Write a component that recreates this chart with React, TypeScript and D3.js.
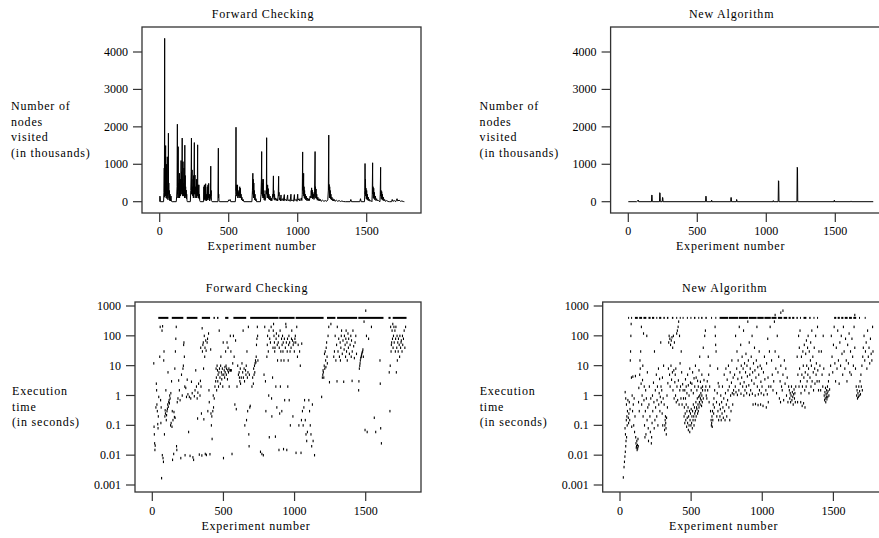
import React from "react";
import * as d3 from "d3";

// axis ticks
const expTicks = [0, 500, 1000, 1500];
const nodeTicks = [0, 1000, 2000, 3000, 4000];
const timeTicks = [0.001, 0.01, 0.1, 1, 10, 100, 1000];
const timeTickLabels = ["0.001", "0.01", "0.1", "1", "10", "100", "1000"];

const nodeLabel = ["Number of", "nodes", "visited", "(in thousands)"];
const timeLabel = ["Execution", "time", "(in seconds)"];

// nodes visited (thousands) : [experiment, value]
const fcNodes: [number, number][] = [
  [0,0],[1,150],[3,140],[5,0],[28,0],[31,250],[33,900],[34,120],[36,4365],[37,300],[38,1000],[39,200],[40,700],[41,150],[43,1500],[44,300],[46,600],[47,100],[49,1000],[50,200],[52,400],[53,80],[55,1200],[56,150],[58,300],[60,50],[62,250],[63,1830],[64,200],[66,500],[68,100],[70,300],[72,30],[75,200],[78,20],[82,150],[85,10],[90,0],
  [120,0],[123,150],[126,400],[128,2070],[129,200],[131,600],[132,100],[134,1470],[135,300],[137,500],[139,100],[141,300],[143,760],[144,100],[146,400],[148,200],[150,600],[151,150],[153,300],[155,1100],[156,200],[158,800],[159,300],[161,400],[163,1700],[164,200],[166,600],[167,150],[169,1070],[170,300],[172,500],[174,150],[176,900],[177,200],[179,400],[180,100],[182,1510],[183,200],[185,700],[186,150],[188,400],[190,100],[192,310],[194,80],[196,200],[198,30],[200,0],
  [222,0],[225,300],[228,800],[230,1700],[231,200],[233,500],[235,850],[236,200],[238,400],[240,150],[242,600],[244,100],[246,700],[248,300],[251,1580],[252,200],[254,500],[256,710],[257,100],[259,400],[261,300],[263,200],[266,600],[268,100],[270,400],[272,150],[275,1520],[276,200],[278,450],[280,100],[282,300],[284,450],[286,80],[288,200],[290,30],[294,0],
  [318,0],[320,400],[322,50],[324,450],[326,80],[328,300],[330,30],[333,480],[335,60],[338,200],[340,20],[345,400],[347,50],[350,450],[352,100],[355,490],[357,50],[360,200],[362,20],[368,100],[370,950],[371,150],[373,300],[375,30],[380,0],
  [422,0],[425,1430],[426,100],[428,200],[430,20],[434,0],
  [495,0],[500,50],[505,30],[510,60],[515,0],
  [548,0],[551,200],[553,1990],[554,300],[556,450],[558,150],[560,400],[562,200],[564,450],[566,100],[568,300],[570,150],[573,250],[576,100],[580,400],[582,150],[585,360],[587,100],[590,200],[593,50],[596,120],[600,20],[605,60],[610,0],
  [668,0],[672,300],[675,760],[676,200],[678,600],[680,100],[682,500],[684,150],[686,300],[688,50],[691,200],[694,30],[698,80],[702,0],
  [730,0],[734,200],[737,600],[739,1340],[740,200],[742,600],[744,150],[746,500],[748,100],[751,600],[752,100],[755,300],[757,50],[760,200],[763,30],[768,100],[771,300],[773,200],[775,1710],[776,250],[778,400],[780,100],[782,450],[784,150],[787,350],[789,80],[792,200],[795,50],[800,150],[804,30],[808,100],[812,20],[816,80],[819,200],[821,120],[824,690],[825,150],[827,300],[829,60],[832,200],[835,40],[840,100],[845,30],[850,80],[855,20],[859,200],[862,680],[863,150],[865,250],[867,50],[870,100],[875,20],[879,180],[881,30],[890,80],[895,20],[903,190],[905,30],[915,60],[920,20],[927,180],[929,30],[940,50],[945,10],[951,200],[953,30],[965,40],[970,10],[976,190],[978,30],[990,60],[995,10],[1000,200],[1002,40],[1010,80],[1015,20],[1022,60],[1026,100],[1030,30],
  [1033,200],[1036,1330],[1037,300],[1039,600],[1041,200],[1043,760],[1044,150],[1046,400],[1048,100],[1050,300],[1052,80],[1055,200],[1058,50],[1062,150],[1066,30],[1070,100],[1075,20],[1080,80],[1085,30],[1090,150],[1095,100],[1098,300],[1100,200],[1101,370],[1103,100],[1105,310],[1107,80],[1110,250],[1112,100],[1115,200],[1118,60],[1122,150],[1126,1340],[1127,200],[1129,400],[1131,100],[1133,340],[1135,80],[1138,200],[1142,40],[1146,120],[1150,30],[1155,80],[1160,20],[1165,60],[1170,10],[1180,40],[1190,10],[1200,30],[1210,10],[1218,50],
  [1222,300],[1225,1780],[1226,300],[1228,460],[1230,100],[1232,400],[1234,150],[1236,300],[1238,80],[1241,200],[1244,50],[1248,120],[1252,30],[1256,80],[1260,20],[1265,60],[1270,10],[1280,40],[1290,10],[1300,30],[1310,5],[1320,20],[1330,5],[1345,0],
  [1380,0],[1385,60],[1390,0],[1450,0],[1455,80],[1460,0],
  [1484,0],[1487,300],[1488,1020],[1489,200],[1491,600],[1493,150],[1495,360],[1497,80],[1500,300],[1502,60],[1505,200],[1508,40],[1512,120],[1516,20],[1520,60],[1525,10],[1530,30],[1538,0],
  [1540,200],[1543,1040],[1544,200],[1546,400],[1548,100],[1551,360],[1553,80],[1556,250],[1559,50],[1563,150],[1567,30],[1572,80],[1577,20],[1582,40],[1590,10],[1596,0],
  [1598,200],[1601,920],[1602,150],[1604,300],[1606,80],[1609,270],[1611,60],[1614,200],[1617,40],[1621,120],[1625,20],[1630,60],[1635,10],[1645,30],[1655,5],[1665,0],
  [1680,0],[1685,60],[1690,10],[1700,30],[1710,0],[1720,80],[1725,20],[1735,40],[1745,10],[1755,20],[1765,5],[1773,0],
];

const naNodes: [number, number][] = [
  [0,0],[60,0],[70,30],[72,45],[75,0],[168,0],[170,180],[172,170],[174,0],[226,0],[228,240],[230,230],[232,0],
  [246,0],[248,115],[250,110],[252,0],[560,0],[562,150],[564,140],[566,0],[602,0],[604,40],[606,0],
  [742,0],[744,115],[746,110],[748,0],[783,0],[785,60],[787,40],[789,0],[1049,0],[1051,30],[1053,0],
  [1086,0],[1088,560],[1090,550],[1092,0],[1222,0],[1224,920],[1226,900],[1228,0],[1491,0],[1493,40],[1495,0],
  [1612,0],[1614,20],[1616,0],[1775,0],
];

// runs stopped at the 400 s limit : [first experiment, last experiment]
const fcTimeout: [number, number][] = [
  [42,113],[137,218],[242,317],[348,406],[430,440],[455,465],[512,535],[570,660],[688,887],
  [892,1000],[1008,1204],[1228,1287],[1299,1440],[1448,1625],[1660,1675],[1690,1787],
];
const naTimeout: [number, number][] = [
  [57,63],[78,85],[105,125],[135,155],[165,185],[200,215],[225,240],[255,262],[275,290],[305,315],[330,340],
  [365,375],[395,400],[420,425],[440,445],[470,475],[495,500],[520,530],[550,555],[570,580],[600,610],
  [640,645],[670,675],[700,760],[765,830],[835,900],[905,960],[965,1010],[1015,1060],[1065,1100],
  [1110,1140],[1150,1175],[1185,1200],[1210,1225],[1240,1250],[1265,1270],[1290,1310],[1330,1340],
  [1360,1365],[1385,1390],[1505,1520],[1530,1545],[1555,1570],[1580,1600],[1610,1630],[1640,1660],
  [1680,1685],[1720,1725],
];

// execution time (seconds) : [experiment, time]
const fcTimes: [number, number][] = [
  [10,12],[12,0.09],[14,0.05],[16,0.025],[18,0.015],[20,0.021],[25,0.4],[28,2.5],[30,1.5],[32,0.5],[35,0.3],[38,0.11],[40,0.08],[42,0.2],[45,0.9],
  [52,20],[55,200],[58,0.7],[60,0.12],[62,0.4],[65,0.0017],[68,150],[70,0.01],[72,210],[75,0.008],[78,0.006],[80,15],[82,30],[85,0.05],[88,0.2],[90,0.32],[92,0.25],[95,1.5],[98,0.15],
  [100,0.22],[103,0.3],[106,0.36],[108,0.5],[110,6],[112,0.42],[115,0.6],[118,0.7],[120,0.55],[122,1],[125,0.8],[128,0.1],[130,1.2],[132,0.12],[135,3],[138,0.09],[140,0.3],[142,0.007],[145,0.15],
  [150,0.011],[152,0.28],[155,0.19],[158,8],[160,0.18],[162,30],[165,80],[168,200],[170,0.02],[172,0.015],[175,0.6],[180,0.8],[185,3.2],[190,1.5],[195,0.7],
  [200,0.008],[205,5],[210,1],[215,8],[218,10],[220,50],[222,60],[225,20],[228,2],[230,0.01],[235,1.8],[240,0.9],[245,3.4],
  [250,1.1],[255,0.06],[260,0.9],[265,0.0095],[270,0.8],[275,2.9],[280,1.2],[285,0.0085],[290,0.007],[295,0.95],
  [300,1.5],[305,7],[310,2],[315,0.8],[318,0.17],[320,1.25],[325,2.5],[330,0.0105],[335,1],[338,3.1],[340,40],[342,2],[345,0.25],[348,0.0098],
  [350,180],[352,30],[355,50],[358,60],[360,8],[362,0.16],[365,100],[368,20],[370,40],[372,0.011],[375,70],[378,32],[380,0.0102],[385,60],[388,80],[390,0.3],[395,120],[398,1.5],
  [400,0.6],[405,0.0108],[410,35],[412,0.25],[415,0.1],[418,0.2],[420,0.035],[425,0.3],[428,1],[430,0.4],[435,0.8],[440,2],[445,3],[448,8],
  [450,4],[452,1.5],[455,10],[458,7],[460,3],[462,5],[465,2],[468,6],[470,150],[472,8],[475,4],[478,2.5],[480,10],[482,20],[485,6],[488,3.5],[490,5],[492,8],[495,2],[498,60],
  [500,0.008],[502,5],[505,7],[508,4],[510,9],[512,6],[515,30],[518,10],[520,5],[522,8],[525,60],[528,3.5],[530,7],[532,40],[535,6],[538,8],[540,2],[545,7],[548,100],
  [550,7],[552,30],[555,7],[560,0.011],[565,12],[570,100],[575,20],[580,0.5],[585,70],[590,0.35],[595,2],
  [600,10],[605,5],[610,6],[612,4],[615,3],[618,8],[620,2.5],[625,4],[630,12],[635,6],[638,150],[640,4],[645,8],[648,3],
  [650,0.1],[655,7],[658,5],[660,10],[662,0.15],[665,30],[668,4],[670,0.3],[672,6],[675,200],[678,0.05],[680,0.02],[682,5],[685,0.4],[688,0.45],
  [700,2],[705,4],[710,2.5],[712,8],[715,5],[718,10],[720,6],[722,12],[725,15],[728,13],[730,20],[732,50],[735,80],[738,200],[740,100],[742,15],
  [760,0.013],[770,0.011],[780,0.01],[785,5],[790,200],[795,3],[798,0.3],
  [805,20],[808,50],[810,100],[815,30],[818,1],[820,150],[822,0.04],[825,80],[830,60],[835,200],[838,0.8],[840,0.2],[845,4],[848,40],
  [850,150],[852,250],[855,100],[858,60],[860,30],[862,40],[865,0.042],[868,2],[870,80],[872,120],[875,0.4],[878,50],[880,15],[885,60],[888,100],[890,0.015],[892,40],[895,0.25],[898,150],
  [900,2],[903,30],[905,15],[908,80],[910,0.3],[912,50],[915,100],[918,30],[920,60],[922,0.016],[925,15],[928,80],[930,0.7],[935,40],[938,250],[940,200],[942,60],[945,0.015],[948,30],
  [950,80],[952,2],[955,15],[958,50],[960,100],[962,0.7],[965,60],[968,30],[970,0.1],[975,40],[978,80],[980,150],[985,70],[988,0.2],[990,50],[995,60],[998,30],
  [1002,80],[1005,100],[1008,60],[1010,0.012],[1015,200],[1020,20],[1025,50],[1030,0.1],[1035,30],[1040,10],[1045,0.012],[1048,0.15],
  [1050,55],[1055,0.3],[1060,0.1],[1065,0.4],[1070,0.7],[1075,0.15],[1080,0.05],[1085,0.03],[1090,0.06],
  [1100,0.7],[1105,0.3],[1110,0.1],[1115,0.05],[1120,0.02],[1125,0.5],[1130,0.03],[1140,0.01],
  [1190,0.9],[1195,4],[1198,5],
  [1200,7],[1202,6],[1205,4],[1208,10],[1210,25],[1212,8],[1215,30],[1218,15],[1220,9],[1222,40],[1225,60],[1228,20],[1230,12],[1235,100],[1240,200],[1245,2.8],[1255,250],
  [1275,20],[1280,30],[1285,100],[1290,15],[1295,50],[1298,3],[1300,200],[1305,30],[1310,80],[1315,20],[1320,60],[1322,15],[1325,40],[1328,100],[1330,150],[1335,25],[1340,70],[1345,2.9],[1348,35],
  [1350,100],[1355,50],[1358,20],[1360,80],[1362,150],[1365,30],[1368,60],[1370,15],[1375,120],[1378,40],[1380,80],[1385,25],[1390,50],[1395,100],[1398,20],[1400,70],[1404,3.1],[1405,30],
  [1410,150],[1415,45],[1420,18],[1425,60],[1430,100],[1435,25],
  [1450,1.5],[1452,3],[1455,8],[1458,10],[1460,12],[1462,15],[1465,18],[1468,20],[1470,22],[1472,25],[1475,28],[1478,30],[1480,35],[1483,20],[1488,300],
  [1495,0.07],[1500,700],[1505,100],[1510,0.06],[1520,80],[1540,200],[1560,0.18],[1570,0.06],[1600,15],[1602,2.5],[1605,0.08],[1610,0.025],
  [1665,6],[1670,0.3],[1672,10],[1675,200],[1678,30],[1680,50],[1682,60],[1685,150],[1688,80],[1690,250],[1692,40],[1695,100],[1698,200],[1700,60],[1705,150],[1708,30],[1710,80],[1712,200],
  [1715,6],[1718,40],[1720,100],[1722,15],[1725,60],[1728,30],[1730,80],[1735,50],[1738,20],[1740,100],[1745,40],[1748,60],[1750,70],[1755,30],[1758,100],[1760,50],[1765,80],[1770,150],[1775,40],[1780,200],
];

const naTimes: [number, number][] = [
  [23,0.0018],[28,0.004],[31,0.006],[34,0.009],[37,0.013],[40,0.02],[42,0.03],[35,0.08],[38,0.05],[44,0.15],[46,0.04],[48,0.2],[50,0.1],[36,1.3],[40,0.8],[45,0.5],[52,0.3],[55,0.7],[58,0.18],[60,0.12],[62,0.25],[65,0.6],[68,0.15],[70,0.35],[72,15],[74,30],[76,100],[78,250],[80,4],[82,0.09],[85,1],[88,0.3],[90,4.3],[93,0.5],[96,0.1],[99,0.8],
  [102,0.06],[105,0.2],[108,4.5],[110,0.04],[112,0.025],[114,0.018],[116,0.02],[118,0.03],[120,0.015],[122,0.022],[124,0.017],[126,0.035],[128,0.02],[130,0.6],[132,1.8],[135,0.3],[138,5],[140,15],[142,8],[145,30],[148,2.5],[150,200],[152,0.5],[155,1],[158,3.3],[160,10],[162,0.2],[165,120],[168,0.7],[170,2],[172,0.1],[175,0.04],[178,0.3],[180,1.5],[182,0.05],[185,0.8],[188,100],[190,0.15],[192,6],[195,0.4],[198,0.08],
  [200,0.03],[203,0.5],[206,2],[210,0.2],[213,0.06],[216,0.8],[220,0.025],[222,0.04],[225,0.12],[228,1],[230,0.3],[235,2.7],[238,0.6],[240,0.08],[242,30],[245,0.15],[248,1.5],[250,0.4],[255,5],[258,0.2],[260,0.7],[263,2],[266,0.1],[270,8],[272,0.5],[275,1.2],[278,3.6],[280,0.3],[283,0.9],[286,60],[288,2],[290,0.6],[293,1.5],[296,0.25],[298,4],
  [300,0.1],[303,0.8],[306,10],[310,0.5],[313,0.07],[315,0.1],[317,0.15],[319,0.2],[321,0.12],[323,0.08],[325,0.05],[327,0.18],[330,1],[333,0.4],[336,2.6],[340,8],[342,60],[345,100],[348,5],[350,80],[352,2],[355,50],[358,10],[360,70],[362,3.4],[365,90],[368,6],[370,40],[372,1.5],[375,100],[378,7],[380,0.8],[382,60],[385,2.8],[388,5],[390,1],[392,8],[395,0.6],[398,120],
  [400,2],[403,150],[405,0.7],[408,200],[410,3.2],[412,300],[415,0.5],[418,100],[420,1.5],[422,12],[425,2],[428,0.8],[430,30],[433,6],[436,0.5],[440,2.4],[443,1.5],[446,0.8],
  [450,0.2],[452,0.4],[455,0.12],[458,0.25],[460,0.8],[462,0.15],[465,0.5],[468,0.09],[470,0.3],[472,0.18],[475,0.12],[478,0.4],[480,0.07],[482,0.2],[485,0.1],[488,0.3],[490,0.06],[492,0.15],[495,0.25],[498,0.1],[500,0.35],[503,0.12],[505,0.2],[508,0.08],[510,0.3],[513,0.15],[515,0.5],[518,0.2],[520,0.1],[523,0.4],[525,0.25],[528,0.15],[530,0.3],[533,0.6],[535,0.2],[538,0.4],[540,0.35],[543,0.8],[545,0.25],[548,0.5],[550,0.3],[553,0.9],[555,0.4],[558,0.6],[560,1],[563,0.5],[565,0.8],[568,1.2],[570,0.7],[573,0.45],[575,1],[578,0.6],[580,1.5],[585,0.8],
  [455,1.5],[460,3.5],[465,2],[470,1.2],[475,5],[480,2.2],[485,1],[490,8],[495,2.7],[500,1.5],[505,2.5],[510,6],[515,1.2],[520,3.8],[525,2],[530,10],[535,4],[540,1.5],[545,3.1],[550,2],[555,7],[560,20],[565,2.9],[570,1.8],[575,5],[580,2],[585,40],[590,3.3],[595,100],[598,1.5],
  [600,150],[603,2],[606,1],[610,0.8],[613,3],[616,1.5],[620,20],[623,5],[626,0.6],[630,2],[633,10],[636,0.3],[640,0.15],[642,0.1],[644,0.12],[646,0.2],[648,0.09],[650,0.3],[652,0.15],[655,0.5],[658,0.25],[660,0.8],[663,0.4],[665,1.5],[668,200],[670,100],[672,50],[675,30],[678,0.6],[680,0.2],[683,1.2],[686,8],[688,0.3],[690,2.6],[693,0.15],[696,2],[699,0.5],
  [702,0.2],[705,0.35],[708,1],[711,0.15],[714,0.6],[717,0.25],[720,2],[723,0.4],[726,0.18],[729,0.8],[732,5],[735,0.3],[738,0.15],[741,1.2],[744,8],[747,0.5],[750,0.2],[753,3.4],[756,0.7],[759,1.5],[762,10],[765,0.4],[768,2],[771,0.15],[774,6],[777,1],[780,0.3],[783,2.7],[786,15],[789,1.2],[792,0.5],[795,4],[798,1.5],
  [800,1.1],[805,5],[810,2],[812,100],[815,1.3],[820,8],[822,30],[825,1.05],[828,3.6],[830,15],[835,1.5],[838,200],[842,6],[845,2.5],[848,50],[850,1.15],[852,10],[855,4],[858,20],[862,2],[865,8],[868,150],[870,1.0],[872,2.8],[875,12],[878,1.5],[882,6],[885,25],[888,2],[890,1.2],[892,10],[895,4.4],[898,300],
  [902,15],[905,2.2],[908,60],[910,1.05],[912,5],[915,8],[918,1.5],[922,20],[925,3.2],[928,100],[930,1.15],[932,6],[935,0.5],[938,12],[942,2.5],[945,40],[948,7],[950,1.0],[952,0.52],[955,4],[958,15],[962,200],[965,2],[968,9],[970,0.48],[972,1.1],[975,5],[978,30],[980,1.5],[985,10],[988,0.5],[990,2.9],[992,1.2],[995,8],[998,2],
  [1005,0.45],[1008,6],[1010,1.05],[1015,20],[1018,3.5],[1025,1.5],[1028,0.4],[1030,12],[1035,1.1],[1038,80],[1040,4],[1042,0.6],[1045,2],[1050,30],[1055,200],
  [1060,2],[1065,15],[1070,5],[1075,1.5],[1080,3],[1085,300],[1090,30],[1095,8],[1100,1.2],[1105,100],[1110,6],[1115,20],[1120,0.8],[1125,3],[1128,0.6],[1130,10],[1135,2],[1140,1.5],[1145,5],[1150,0.7],[1155,15],[1160,2.5],[1165,8],[1170,1],[1175,4],[1180,0.6],[1185,2],
  [1190,1.5],[1193,0.8],[1196,1.2],[1199,0.6],[1202,1],[1205,2],[1208,0.7],[1211,1.3],[1214,0.9],[1217,0.5],[1220,1.1],[1223,1.6],[1226,0.8],[1229,1.2],[1232,0.6],[1235,2],
  [1245,20],[1248,0.6],[1250,5],[1255,100],[1258,2],[1260,40],[1262,8],[1265,150],[1268,3],[1270,0.6],[1272,1.2],[1275,20],[1278,5],[1280,0.45],[1282,2],[1285,30],[1288,10],[1290,0.55],[1292,4],[1295,50],[1298,1.5],[1300,0.4],[1302,6],[1305,25],[1308,2],[1310,70],[1312,10],[1315,3],[1318,40],[1320,5],[1322,100],[1325,8],[1328,1.2],[1330,30],[1335,4],[1338,15],[1340,60],[1342,2],[1345,10],[1348,150],[1350,3],[1355,20],[1358,6],[1360,1.5],[1365,40],[1368,8],[1370,2.5],[1375,100],[1378,5],[1380,12],[1385,3],[1388,200],[1390,7],[1395,1.5],[1398,30],
  [1400,3],[1405,10],[1410,1.5],[1415,30],[1420,5],[1425,2],[1428,100],[1432,8],
  [1435,1],[1438,0.7],[1440,1.3],[1442,0.8],[1444,1.8],[1446,0.6],[1448,1.1],[1450,0.9],[1452,1.5],[1454,0.75],[1456,1.2],[1458,2],[1460,0.9],[1462,1.4],[1465,3],[1468,1],[1470,5],[1473,1.6],
  [1480,10],[1485,100],[1490,20],[1495,6],[1500,50],[1505,200],[1510,12],[1515,3],[1520,40],[1525,8],[1530,150],[1535,15],[1540,2.5],[1545,60],[1550,10],[1555,100],[1560,25],[1565,5],[1570,200],[1575,30],[1580,8],[1585,80],[1590,15],[1595,3],[1600,50],[1605,12],[1610,120],[1615,6],[1620,30],[1625,5],[1630,80],[1635,20],[1640,10],[1645,200],[1650,40],[1655,8],
  [1660,2],[1663,1],[1666,1.5],[1669,0.8],[1672,1.2],[1675,0.9],[1678,2],[1681,1],[1684,1.4],[1687,3],[1690,1.1],[1693,5],[1696,2],[1700,10],[1703,1.5],[1706,20],
  [1710,40],[1715,100],[1720,15],[1725,30],[1730,60],[1735,8],[1740,150],[1745,20],[1750,40],[1755,12],[1760,80],[1765,25],[1770,15],[1775,200],[1778,30],
  [1090,500],[1130,600],[1145,700],[1650,500],
];

const FONT = "'Liberation Serif', 'DejaVu Serif', 'Times New Roman', serif";
const INK = "#000";
const FRAME = "#333";

type Box = { left: number; right: number; top: number; bottom: number };

const wordStyle = { fontFamily: FONT, fontSize: "12px", letterSpacing: "0.8px" };
const numStyle = { fontFamily: FONT, fontSize: "12px" };

function YLabel({ lines, x, y0 }: { lines: string[]; x: number; y0: number }) {
  return (
    <text x={x} y={y0} style={wordStyle}>
      {lines.map((l, i) => (
        <tspan key={i} x={x} dy={i === 0 ? 0 : 15.5}>{l}</tspan>
      ))}
    </text>
  );
}

function Frame({ box, xScale, yScale, yTicks, yLabels, xLabelY }: any) {
  return (
    <g>
      <rect x={box.left} y={box.top} width={box.right - box.left} height={box.bottom - box.top}
        fill="none" stroke={FRAME} strokeWidth={1.3} />
      {expTicks.map((t) => (
        <g key={t}>
          <line x1={xScale(t)} x2={xScale(t)} y1={box.bottom} y2={box.bottom + 9} stroke={FRAME} strokeWidth={1.2} />
          <text x={xScale(t)} y={xLabelY} textAnchor="middle" style={numStyle}>{t}</text>
        </g>
      ))}
      {yTicks.map((t: number, i: number) => (
        <g key={t}>
          <line x1={box.left - 9} x2={box.left} y1={yScale(t)} y2={yScale(t)} stroke={FRAME} strokeWidth={1.2} />
          <text x={box.left - 14} y={yScale(t) + 4} textAnchor="end" style={numStyle}>{yLabels[i]}</text>
        </g>
      ))}
    </g>
  );
}

function NodesPanel({ title, data, dx }: { title: string; data: [number, number][]; dx: number }) {
  const x = d3.scaleLinear().domain([0, 1500]).range([159.7 + dx, 366.7 + dx]);
  const y = d3.scaleLinear().domain([0, 4000]).range([201.7, 52]);
  const box: Box = { left: 142 + dx, right: 421 + dx, top: 27, bottom: 213 };
  const path = d3.line<[number, number]>().x((d) => x(d[0])).y((d) => y(d[1]))(data) || "";
  return (
    <g>
      <text x={263 + dx} y={18} textAnchor="middle" style={wordStyle}>{title}</text>
      <Frame box={box} xScale={x} yScale={y} yTicks={nodeTicks} yLabels={nodeTicks.map(String)} xLabelY={235} />
      <path d={path} fill="none" stroke={INK} strokeWidth={1} strokeLinejoin="miter" />
      <text x={262 + dx} y={250} textAnchor="middle" style={wordStyle}>Experiment number</text>
      <YLabel lines={nodeLabel} x={11 + dx} y0={110} />
    </g>
  );
}

function TimePanel({ title, data, timeout, dx }: { title: string; data: [number, number][]; timeout: [number, number][]; dx: number }) {
  const x = d3.scaleLinear().domain([0, 1500]).range([152.3 + dx, 365.7 + dx]);
  const y = d3.scaleLog().domain([0.001, 1000]).range([485, 306]);
  const box: Box = { left: 135 + dx, right: 421 + dx, top: 302, bottom: 492 };
  const yLimit = y(400);
  return (
    <g>
      <text x={257 + dx} y={292} textAnchor="middle" style={wordStyle}>{title}</text>
      <Frame box={box} xScale={x} yScale={y} yTicks={timeTicks} yLabels={timeTickLabels} xLabelY={515} />
      {timeout.map(([a, b], i) => (
        <rect key={"t" + i} x={x(a)} y={yLimit - 1} width={Math.max(1, x(b) - x(a))} height={2} fill={INK} />
      ))}
      {data.map(([e, t], i) => (
        <rect key={i} x={x(e) - 0.5} y={y(t) - 1.2} width={1.1} height={2.5} fill={INK} />
      ))}
      <text x={256 + dx} y={530} textAnchor="middle" style={wordStyle}>Experiment number</text>
      <YLabel lines={timeLabel} x={12 + dx} y0={395} />
    </g>
  );
}

export default function App() {
  return (
    <svg width={879} height={538} style={{ position: "absolute", left: 0, top: 0, background: "#fff" }} fill={INK}>
      <NodesPanel title="Forward Checking" data={fcNodes} dx={0} />
      <NodesPanel title="New Algorithm" data={naNodes} dx={468.6} />
      <TimePanel title="Forward Checking" data={fcTimes} timeout={fcTimeout} dx={0} />
      <TimePanel title="New Algorithm" data={naTimes} timeout={naTimeout} dx={467.7} />
    </svg>
  );
}
